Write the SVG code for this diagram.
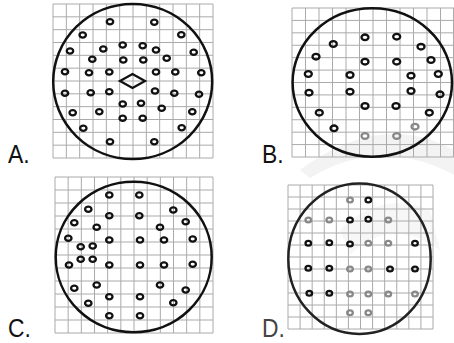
<svg xmlns="http://www.w3.org/2000/svg" xmlns:xlink="http://www.w3.org/1999/xlink" width="454" height="343" viewBox="0 0 454 343">
<style>
.grid{fill:none;stroke:#aaaaaa;stroke-width:1}
.rim{fill:none;stroke:#111;stroke-width:2.5}
.h{fill:none;stroke:#111;stroke-width:2.3}
.hg{fill:none;stroke:#888;stroke-width:2.3}
.lbl{font-family:"Liberation Sans",Arial,sans-serif;font-size:26px;fill:#111}
</style>
<defs>
<ellipse id="o" rx="3.2" ry="2.6"/>
<ellipse id="ob" rx="3.5" ry="2.8"/>
<ellipse id="od" rx="2.8" ry="2.4"/>
</defs>
<rect width="454" height="343" fill="#fff"/>

<g id="watermark" fill="#f3f3f3">
<path d="M300 170 Q380 110 454 150 L454 175 Q380 135 310 178 Z"/>
<path d="M340 230 Q380 190 430 210 L440 250 Q390 215 350 255 Z" fill="#f7f7f7"/>
</g>

<g id="panelA">
<path class="grid" d="M53 4V158M66.33 4V158M79.67 4V158M93 4V158M106.33 4V158M119.67 4V158M133 4V158M146.33 4V158M159.67 4V158M173 4V158M186.33 4V158M199.67 4V158M213 4V158M53 4H213M53 16.83H213M53 29.67H213M53 42.5H213M53 55.33H213M53 68.17H213M53 81H213M53 93.83H213M53 106.67H213M53 119.5H213M53 132.33H213M53 145.17H213M53 158H213"/>
<ellipse class="rim" cx="132.7" cy="81.5" rx="79.5" ry="77.5"/>
<polygon class="h" points="120,81 132.5,74 145,81 132.5,88"/>
<g class="h">
<use href="#o" x="110" y="21.7"/><use href="#o" x="154.3" y="22.3"/>
<use href="#o" x="82.7" y="35"/><use href="#o" x="181.3" y="34.7"/>
<use href="#o" x="70" y="51"/><use href="#o" x="193.7" y="52.3"/>
<use href="#o" x="103.3" y="49"/><use href="#o" x="122.7" y="45"/><use href="#o" x="142.7" y="45.7"/><use href="#o" x="156" y="50"/>
<use href="#o" x="92.3" y="59.3"/><use href="#o" x="123.3" y="60"/><use href="#o" x="143.3" y="60"/><use href="#o" x="166.7" y="58.3"/>
<use href="#o" x="65" y="71.7"/><use href="#o" x="89" y="72.7"/><use href="#o" x="109.3" y="72"/><use href="#o" x="156" y="72"/><use href="#o" x="175.3" y="72"/><use href="#o" x="201.3" y="72.7"/>
<use href="#o" x="65" y="93.3"/><use href="#o" x="90.7" y="92.7"/><use href="#o" x="109.3" y="91.7"/><use href="#o" x="155" y="91"/><use href="#o" x="174.3" y="93.3"/><use href="#o" x="199" y="94.3"/>
<use href="#o" x="72.7" y="112.7"/><use href="#o" x="99.3" y="111.7"/><use href="#o" x="122.7" y="104"/><use href="#o" x="141" y="103.3"/><use href="#o" x="161.7" y="108.3"/><use href="#o" x="192.3" y="111.7"/>
<use href="#o" x="122.7" y="118.3"/><use href="#o" x="142.7" y="118.3"/>
<use href="#o" x="83.3" y="128.3"/><use href="#o" x="181.7" y="127.7"/>
<use href="#o" x="110" y="141.7"/><use href="#o" x="154.3" y="141.7"/>
</g>
<text class="lbl" transform="translate(8 163) scale(0.88 1)">A.</text>
</g>

<g id="panelB">
<path class="grid" d="M292 8V157M305.5 8V157M319 8V157M332.5 8V157M346 8V157M359.5 8V157M373 8V157M386.5 8V157M400 8V157M413.5 8V157M427 8V157M440.5 8V157M453.5 8V157M292 8H454M292 20.42H454M292 32.83H454M292 45.25H454M292 57.67H454M292 70.08H454M292 82.5H454M292 94.92H454M292 107.33H454M292 119.75H454M292 132.17H454M292 144.58H454M292 157H454"/>
<ellipse class="rim" cx="372.3" cy="82.5" rx="79.7" ry="74.2"/>
<g class="h">
<use href="#ob" x="365" y="37.3"/><use href="#ob" x="396.7" y="36.7"/>
<use href="#ob" x="333.3" y="44"/><use href="#ob" x="421" y="46.7"/>
<use href="#ob" x="316" y="56.7"/><use href="#ob" x="431" y="60"/>
<use href="#ob" x="365" y="61.7"/><use href="#ob" x="396.7" y="61.7"/>
<use href="#ob" x="308.3" y="74"/><use href="#ob" x="350" y="75"/><use href="#ob" x="411" y="75.7"/><use href="#ob" x="438.3" y="74"/>
<use href="#ob" x="309" y="92.7"/><use href="#ob" x="350" y="91.7"/><use href="#ob" x="411" y="91"/><use href="#ob" x="440" y="94.3"/>
<use href="#ob" x="365" y="106"/><use href="#ob" x="396" y="106"/>
<use href="#ob" x="319.3" y="112.7"/><use href="#ob" x="429.3" y="112.7"/>
<use href="#ob" x="334" y="128.3"/>
</g>
<g class="hg">
<use href="#ob" x="415" y="126.7"/>
<use href="#ob" x="365" y="136"/><use href="#ob" x="396.7" y="136"/>
</g>
<text class="lbl" transform="translate(262 163) scale(0.88 1)">B.</text>
</g>

<g id="panelC">
<path class="grid" d="M55 177V333M68.17 177V333M81.33 177V333M94.5 177V333M107.67 177V333M120.83 177V333M134 177V333M147.17 177V333M160.33 177V333M173.5 177V333M186.67 177V333M199.83 177V333M213 177V333M55 177H213M55 190H213M55 203H213M55 216H213M55 229H213M55 242H213M55 255H213M55 268H213M55 281H213M55 294H213M55 307H213M55 320H213M55 333H213"/>
<ellipse class="rim" cx="133.7" cy="257" rx="78" ry="75.3"/>
<g class="h">
<use href="#o" x="109.3" y="195"/><use href="#o" x="139.3" y="195"/>
<use href="#o" x="88.3" y="209.3"/><use href="#o" x="173.3" y="210"/>
<use href="#o" x="109.3" y="215.7"/><use href="#o" x="139.3" y="215.7"/>
<use href="#o" x="74.3" y="222.7"/><use href="#o" x="185.7" y="221.7"/>
<use href="#o" x="96.7" y="227.3"/><use href="#o" x="160" y="227.3"/>
<use href="#o" x="68.3" y="238.3"/><use href="#o" x="109.3" y="240"/><use href="#o" x="140" y="240"/><use href="#o" x="164" y="240"/><use href="#o" x="192.7" y="239"/>
<use href="#o" x="80.7" y="246.7"/><use href="#o" x="92.7" y="246"/>
<use href="#o" x="80.7" y="259.3"/><use href="#o" x="92.7" y="259.3"/>
<use href="#o" x="69" y="265"/><use href="#o" x="109.3" y="265"/><use href="#o" x="140" y="265"/><use href="#o" x="164" y="265"/><use href="#o" x="192.7" y="264.3"/>
<use href="#o" x="96.7" y="285"/><use href="#o" x="160" y="285"/>
<use href="#o" x="74.3" y="288.3"/><use href="#o" x="185.7" y="290"/>
<use href="#o" x="109.3" y="296.7"/><use href="#o" x="140" y="296.7"/>
<use href="#o" x="88.3" y="303.3"/><use href="#o" x="173.3" y="302.7"/>
<use href="#o" x="109.3" y="315.7"/><use href="#o" x="140" y="315.7"/>
</g>
<text class="lbl" transform="translate(8 337) scale(0.88 1)">C.</text>
</g>

<g id="panelD">
<path class="grid" d="M288 185V329M300.08 185V329M312.17 185V329M324.25 185V329M336.33 185V329M348.42 185V329M360.5 185V329M372.58 185V329M384.67 185V329M396.75 185V329M408.83 185V329M420.92 185V329M433 185V329M288 185H433M288 197H433M288 209H433M288 221H433M288 233H433M288 245H433M288 257H433M288 269H433M288 281H433M288 293H433M288 305H433M288 317H433M288 329H433"/>
<ellipse class="rim" cx="359.5" cy="258.7" rx="71.2" ry="75.3" style="stroke:#222"/>
<g class="h">
<use href="#od" x="368.3" y="200"/>
<use href="#od" x="350" y="220"/><use href="#od" x="368.3" y="219.3"/>
<use href="#od" x="308.3" y="243.3"/><use href="#od" x="329.3" y="242.7"/><use href="#od" x="350" y="244"/><use href="#od" x="415" y="243.3"/>
<use href="#od" x="308.3" y="268.3"/><use href="#od" x="329.3" y="268.3"/><use href="#od" x="390" y="269"/><use href="#od" x="415" y="269"/>
<use href="#od" x="309.3" y="293.3"/><use href="#od" x="329.3" y="293.3"/>
</g>
<g class="hg">
<use href="#od" x="350" y="200"/>
<use href="#od" x="308.3" y="220"/><use href="#od" x="329.3" y="220"/><use href="#od" x="388.3" y="220"/>
<use href="#od" x="368.3" y="243.3"/><use href="#od" x="388.3" y="243.3"/>
<use href="#od" x="350" y="269"/><use href="#od" x="368.3" y="269"/>
<use href="#od" x="350" y="294"/><use href="#od" x="368.3" y="294"/><use href="#od" x="388.3" y="294"/><use href="#od" x="415" y="294"/>
<use href="#od" x="350" y="312.7"/><use href="#od" x="368.3" y="312.7"/>
</g>
<text class="lbl" transform="translate(262 337) scale(0.88 1)" style="fill:#444">D.</text>
</g>
</svg>
